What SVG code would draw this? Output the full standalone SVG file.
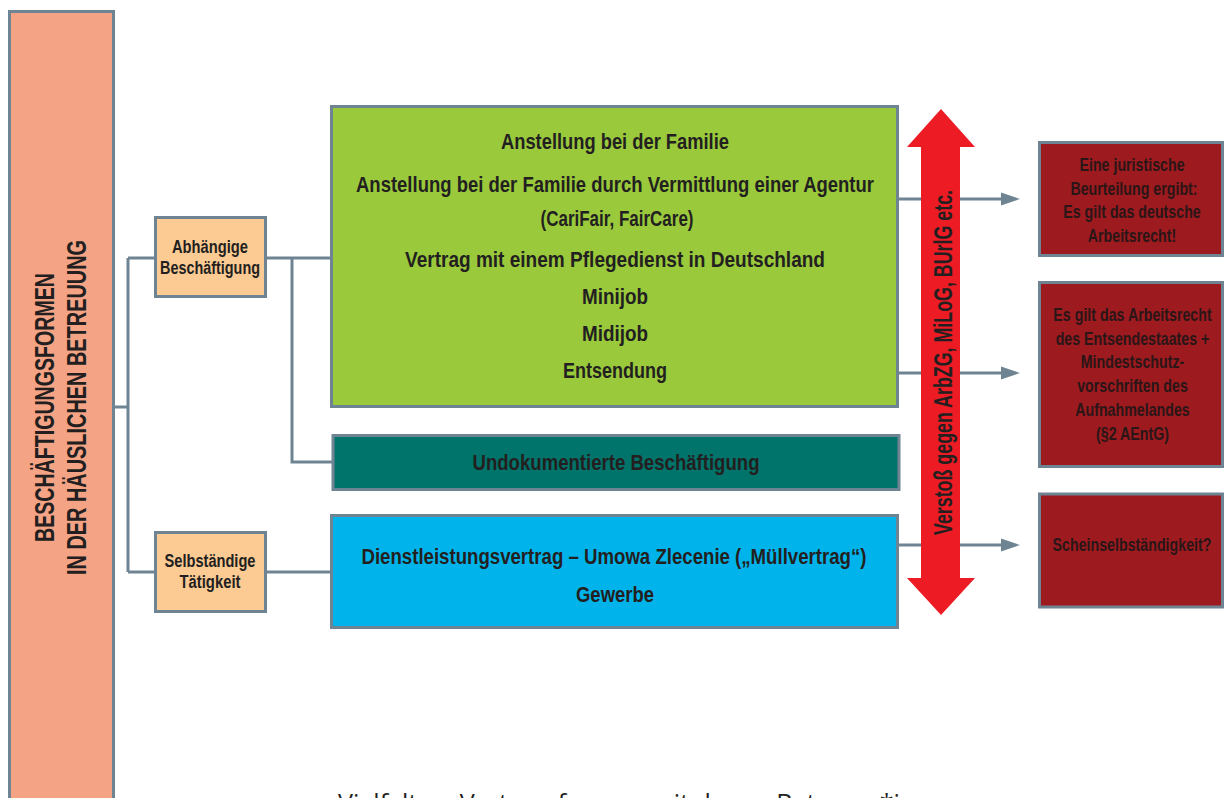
<svg xmlns="http://www.w3.org/2000/svg" width="1225" height="798" viewBox="0 0 1225 798">
<style>
.box{stroke:#6E8493;stroke-width:3}
.t{font-family:"Liberation Sans",Arial,sans-serif;font-weight:bold;fill:#231F20;text-anchor:middle}
.g{font-size:22px}
.s{font-size:18px}
.r{font-size:18px;fill:#2A1517}
.con{fill:none;stroke:#6E8493;stroke-width:3}
.cap{font-family:"Open Sans","Liberation Sans",sans-serif;font-size:26px;fill:#231F20}
</style>
<defs>
<marker id="ah" markerUnits="userSpaceOnUse" markerWidth="19" markerHeight="14" viewBox="0 0 19 14" refX="7" refY="7" orient="auto">
<path d="M0,0.5 L19,7 L0,13.5 Z" fill="#6E8493"/>
</marker>
</defs>
<rect width="1225" height="798" fill="#FFFFFF"/>

<g id="connectors">
<path class="con" d="M114,407 H128 M128,258 V572 M128,258 H155 M128,572 H155"/>
<path class="con" d="M266,258 H332 M292,258 V462 H334"/>
<path class="con" d="M266,572 H332"/>
<line class="con" x1="898" y1="199" x2="1008" y2="199" marker-end="url(#ah)"/>
<line class="con" x1="898" y1="373" x2="1008" y2="373" marker-end="url(#ah)"/>
<line class="con" x1="898" y1="545" x2="1008" y2="545" marker-end="url(#ah)"/>
</g>

<g id="root">
<rect class="box" x="9.5" y="11.5" width="104" height="800" fill="#F5A385"/>
<text class="t" font-size="28" transform="translate(54,407.5) rotate(-90)" textLength="269" lengthAdjust="spacingAndGlyphs">BESCHÄFTIGUNGSFORMEN</text>
<text class="t" font-size="28" transform="translate(86,407.5) rotate(-90)" textLength="335" lengthAdjust="spacingAndGlyphs">IN DER HÄUSLICHEN BETREUUNG</text>
</g>

<g id="abhaengig">
<rect class="box" x="155.5" y="217.5" width="110" height="79" fill="#FCCB93"/>
<text class="t s" x="210" y="253" textLength="76" lengthAdjust="spacingAndGlyphs">Abhängige</text>
<text class="t s" x="210" y="274" textLength="100" lengthAdjust="spacingAndGlyphs">Beschäftigung</text>
</g>

<g id="selbstaendig">
<rect class="box" x="155.5" y="532.5" width="110" height="79" fill="#FCCB93"/>
<text class="t s" x="210" y="567" textLength="91" lengthAdjust="spacingAndGlyphs">Selbständige</text>
<text class="t s" x="210" y="588" textLength="61" lengthAdjust="spacingAndGlyphs">Tätigkeit</text>
</g>

<g id="anstellung">
<rect class="box" x="331.5" y="106.5" width="566" height="300" fill="#9ACA3C"/>
<text class="t g" x="615" y="149" textLength="228" lengthAdjust="spacingAndGlyphs">Anstellung bei der Familie</text>
<text class="t g" x="615" y="192" textLength="518" lengthAdjust="spacingAndGlyphs">Anstellung bei der Familie durch Vermittlung einer Agentur</text>
<text class="t g" x="617" y="226" textLength="153" lengthAdjust="spacingAndGlyphs">(CariFair, FairCare)</text>
<text class="t g" x="615" y="267" textLength="420" lengthAdjust="spacingAndGlyphs">Vertrag mit einem Pflegedienst in Deutschland</text>
<text class="t g" x="615" y="304" textLength="66" lengthAdjust="spacingAndGlyphs">Minijob</text>
<text class="t g" x="615" y="341" textLength="66" lengthAdjust="spacingAndGlyphs">Midijob</text>
<text class="t g" x="615" y="378" textLength="104" lengthAdjust="spacingAndGlyphs">Entsendung</text>
</g>

<g id="undokumentiert">
<rect class="box" x="333" y="435.5" width="566" height="54" fill="#00736A"/>
<text class="t g" x="616" y="470" textLength="287" lengthAdjust="spacingAndGlyphs">Undokumentierte Beschäftigung</text>
</g>

<g id="dienstleistung">
<rect class="box" x="331.5" y="515.5" width="566" height="112" fill="#00B4EB"/>
<text class="t g" x="614" y="564" textLength="505" lengthAdjust="spacingAndGlyphs">Dienstleistungsvertrag – Umowa Zlecenie („Müllvertrag“)</text>
<text class="t g" x="615" y="602" textLength="78" lengthAdjust="spacingAndGlyphs">Gewerbe</text>
</g>

<g id="verstoss">
<polygon points="941,109 975,147 960,147 960,578 975,578 941,615 907,578 921,578 921,147 907,147" fill="#ED1C24"/>
<text class="t" font-size="25" transform="translate(952,362.5) rotate(-90)" textLength="345" lengthAdjust="spacingAndGlyphs">Verstoß gegen ArbZG, MiLoG, BUrlG etc.</text>
</g>

<g id="deutsches-recht">
<rect class="box" x="1039.5" y="142.5" width="183" height="113" fill="#9D1B1F"/>
<g transform="translate(1132,0) scale(0.79,1)">
<text class="t r" x="0" y="171">Eine juristische</text>
<text class="t r" x="2.5" y="195">Beurteilung ergibt:</text>
<text class="t r" x="0" y="218.5">Es gilt das deutsche</text>
<text class="t r" x="0" y="242">Arbeitsrecht!</text>
</g>
</g>

<g id="entsendestaat">
<rect class="box" x="1039.5" y="282.5" width="183" height="184" fill="#9D1B1F"/>
<g transform="translate(1132.5,0) scale(0.79,1)">
<text class="t r" x="0" y="321.5">Es gilt das Arbeitsrecht</text>
<text class="t r" x="0" y="345">des Entsendestaates +</text>
<text class="t r" x="0" y="368.5">Mindestschutz-</text>
<text class="t r" x="0" y="392.5">vorschriften des</text>
<text class="t r" x="0" y="416.5">Aufnahmelandes</text>
<text class="t r" x="0" y="440">(§2 AEntG)</text>
</g>
</g>

<g id="scheinselbstaendigkeit">
<rect class="box" x="1039.5" y="494" width="183" height="113" fill="#9D1B1F"/>
<g transform="translate(1132,0) scale(0.79,1)">
<text class="t r" x="0" y="551.5">Scheinselbständigkeit?</text>
</g>
</g>

<text class="cap" x="338" y="812" textLength="622" lengthAdjust="spacingAndGlyphs">Vielfalt an Vertragsformen mit denen Betreuer*innen</text>
</svg>
